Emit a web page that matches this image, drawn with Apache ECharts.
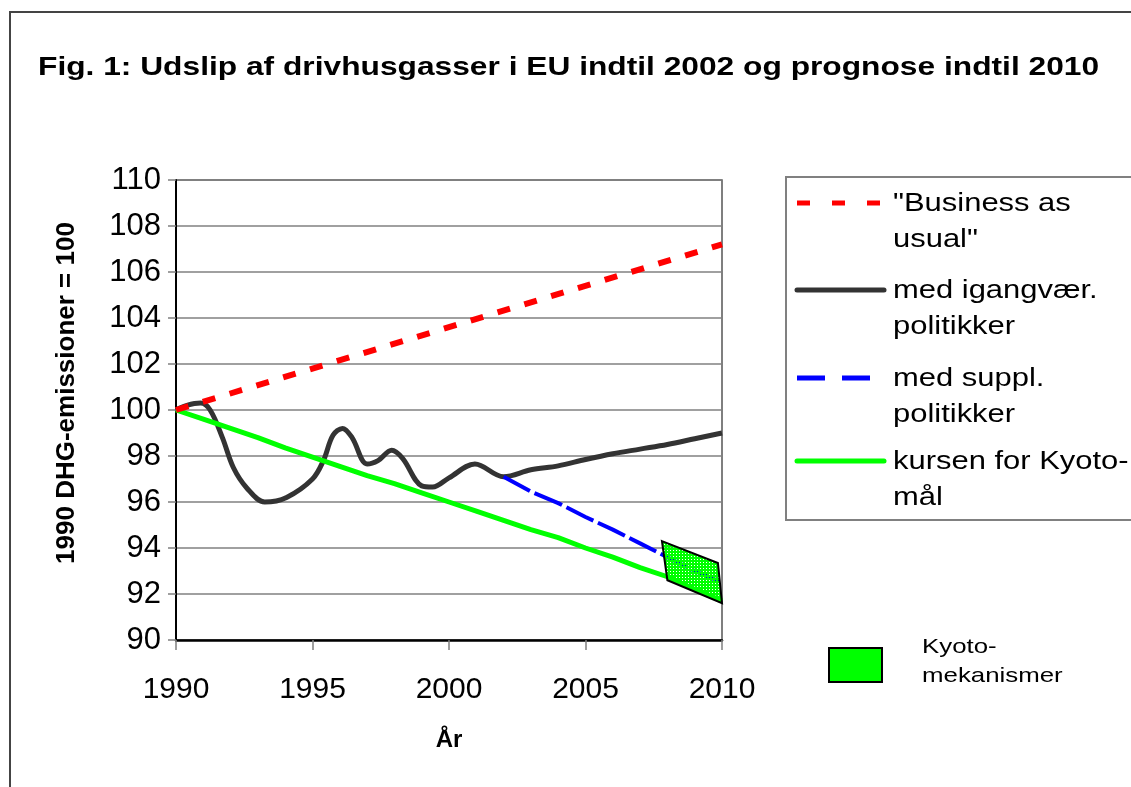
<!DOCTYPE html>
<html>
<head>
<meta charset="utf-8">
<script src="https://cdn.jsdelivr.net/npm/echarts@6/dist/echarts.min.js"></script>
<style>
html,body{margin:0;padding:0;background:#fff;}
#chart{width:1131px;height:787px;}
</style>
</head>
<body>
<div id="chart"></div>
<script>
// ---- data ----
const titleText = 'Fig. 1: Udslip af drivhusgasser i EU indtil 2002 og prognose indtil 2010';
const yAxisTitle = '1990 DHG-emissioner = 100';
const xAxisTitle = 'År';

const bauYears = [1990, 2010];
const bauValues = [100, 107.2];

const curYears  = [1990, 1990.4, 1990.9, 1991.25, 1991.7, 1992.1, 1992.6, 1993.25, 1994.05, 1995.0, 1995.4, 1995.75, 1996.1, 1996.45, 1997.0, 1997.4, 1997.9, 1998.3, 1999.0, 1999.4, 2000.0, 2000.95, 2002.0, 2003, 2004, 2005, 2006, 2007, 2008, 2009, 2010];
const curValues = [100, 100.2, 100.3, 100.0, 98.8, 97.5, 96.6, 96.0, 96.2, 97.0, 97.8, 98.9, 99.2, 98.8, 97.65, 97.8, 98.25, 97.9, 96.7, 96.65, 97.05, 97.65, 97.1, 97.4, 97.57, 97.85, 98.1, 98.3, 98.5, 98.75, 99.0];

const supYears  = [2002, 2003, 2004, 2005, 2006, 2007, 2008, 2009, 2010];
const supValues = [97.1, 96.45, 95.95, 95.35, 94.8, 94.2, 93.6, 93.0, 92.5];

const kyoYears  = [1990, 1991, 1992, 1993, 1994, 1995, 1996, 1997, 1998, 1999, 2000, 2001, 2002, 2003, 2004, 2005, 2006, 2007, 2008, 2009, 2010];
const kyoValues = [100, 99.6, 99.2, 98.8, 98.35, 97.95, 97.55, 97.15, 96.8, 96.4, 96.0, 95.6, 95.2, 94.8, 94.45, 94.0, 93.6, 93.15, 92.75, 92.2, 91.7];

const mechYears  = [2007.8, 2009.85, 2010, 2008];
const mechValues = [94.3, 93.35, 91.6, 92.6];

const seriesNames = ['"Business as\nusual"', 'med igangvær.\npolitikker', 'med suppl.\npolitikker', 'kursen for Kyoto-\nmål'];
const mechLabel = 'Kyoto-\nmekanismer';

// ---- helpers ----
const zip = (a, b) => a.map((v, i) => [v, b[i]]);
const FONT = '"Liberation Sans", Arial, sans-serif';

function makePattern() {
  const c = document.createElement('canvas');
  c.width = 3; c.height = 3;
  const g = c.getContext('2d');
  g.fillStyle = '#00ff00';
  g.fillRect(0, 0, 3, 3);
  g.clearRect(1, 1, 1, 1);
  return c;
}
const pattern = { image: makePattern(), repeat: 'repeat' };

const chart = echarts.init(document.getElementById('chart'), null, { renderer: 'canvas' });

const G = [];
// outer frame
G.push({ type: 'polyline', shape: { points: [[10, 790], [10, 12], [1140, 12]] }, style: { stroke: '#444', lineWidth: 2, fill: null }, z: 1 });
// title
G.push({ type: 'text', x: 38, y: 68, scaleX: 1.22,
  style: { text: titleText, font: 'bold 26px ' + FONT, fill: '#000', textVerticalAlign: 'middle' }, z: 11 });
// legend
G.push({ type: 'rect', shape: { x: 786, y: 177, width: 360, height: 343 }, style: { fill: '#fff', stroke: '#808080', lineWidth: 2 }, z: 10 });
const legendRows = [
  { y: 203, color: '#ff0000', dash: [13, 22], lines: seriesNames[0].split('\n') },
  { y: 290, color: '#333333', dash: null, lines: seriesNames[1].split('\n') },
  { y: 378, color: '#0000ff', dash: [28, 17], lines: seriesNames[2].split('\n') },
  { y: 461, color: '#00ff00', dash: null, lines: seriesNames[3].split('\n') }
];
legendRows.forEach(r => {
  G.push({ type: 'line', shape: { x1: 797, y1: r.y, x2: 884, y2: r.y },
    style: { stroke: r.color, lineWidth: 5, lineDash: r.dash || null, lineCap: r.dash ? 'butt' : 'round' }, z: 11 });
  r.lines.forEach((t, i) => {
    G.push({ type: 'text', x: 893, y: r.y + 1 + i * 36, scaleX: 1.19,
      style: { text: t, font: '26px ' + FONT, fill: '#000', textVerticalAlign: 'middle', textAlign: 'left' }, z: 11 });
  });
});
// Kyoto mechanism legend
G.push({ type: 'rect', shape: { x: 829, y: 648, width: 53, height: 34 }, style: { fill: '#00ff00', stroke: '#000', lineWidth: 2 }, z: 11 });
mechLabel.split('\n').forEach((t, i) => {
  G.push({ type: 'text', x: 922, y: 647 + i * 29, scaleX: 1.23,
    style: { text: t, font: '21px ' + FONT, fill: '#000', textVerticalAlign: 'middle' }, z: 11 });
});

const option = {
  backgroundColor: '#ffffff',
  animation: false,
  grid: { left: 176, top: 180, right: 409, bottom: 147, show: true, borderColor: '#555', borderWidth: 1.5, backgroundColor: 'transparent' },
  xAxis: {
    type: 'value', min: 1990, max: 2010, interval: 5,
    name: xAxisTitle, nameLocation: 'middle', nameGap: 88,
    nameTextStyle: { fontFamily: FONT, fontWeight: 'bold', fontSize: 24, color: '#000' },
    axisLine: { show: true, onZero: false, lineStyle: { color: '#000', width: 2.5 } },
    axisTick: { show: true, inside: false, length: 10, lineStyle: { color: '#808080', width: 1.5 } },
    axisLabel: { fontFamily: FONT, fontSize: 30, color: '#000', margin: 35, formatter: v => String(v) },
    splitLine: { show: false }
  },
  yAxis: {
    type: 'value', min: 90, max: 110, interval: 2,
    name: yAxisTitle, nameLocation: 'middle', nameGap: 96, nameRotate: 90,
    nameTextStyle: { fontFamily: FONT, fontWeight: 'bold', fontSize: 26, color: '#000', padding: [0, 0, 0, 34] },
    axisLine: { show: true, lineStyle: { color: '#000', width: 2 } },
    axisTick: { show: true, inside: false, length: 8, lineStyle: { color: '#808080', width: 1.5 } },
    axisLabel: { fontFamily: FONT, fontSize: 31, color: '#000', margin: 15, formatter: v => String(v) },
    splitLine: { show: true, lineStyle: { color: '#808080', width: 1.5 } }
  },
  graphic: G,
  series: [
    { name: seriesNames[1], type: 'line', data: zip(curYears, curValues), smooth: 0.35, showSymbol: false, symbol: 'none',
      lineStyle: { color: '#333333', width: 5 }, z: 3 },
    { name: seriesNames[3], type: 'line', data: zip(kyoYears, kyoValues), showSymbol: false, symbol: 'none',
      lineStyle: { color: '#00ff00', width: 5 }, z: 4 },
    { name: seriesNames[0], type: 'line', data: zip(bauYears, bauValues), showSymbol: false, symbol: 'none',
      lineStyle: { color: '#ff0000', width: 6, type: [13, 15] }, z: 5 },
    { name: seriesNames[2], type: 'line', data: zip(supYears, supValues), showSymbol: false, symbol: 'none',
      lineStyle: { color: '#0000ff', width: 4, type: [30, 5] }, z: 5 },
    { name: 'Kyoto-mekanismer', type: 'custom', z: 6,
      data: [0],
      renderItem: function (params, api) {
        const pts = mechYears.map((x, i) => api.coord([x, mechValues[i]]));
        return { type: 'polygon', shape: { points: pts }, style: { fill: pattern, stroke: '#000', lineWidth: 2 } };
      }
    }
  ]
};
chart.setOption(option);
</script>
</body>
</html>
